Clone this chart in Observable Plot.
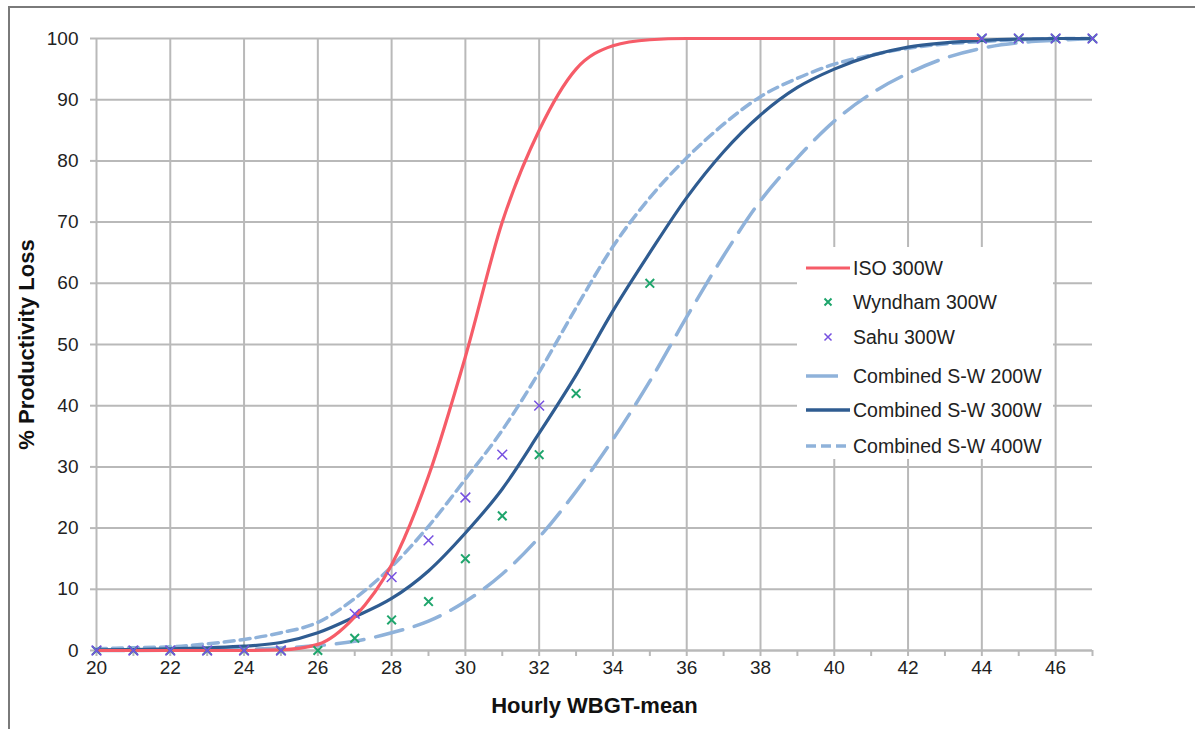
<!DOCTYPE html>
<html><head><meta charset="utf-8">
<script src="https://cdn.jsdelivr.net/npm/d3@7"></script>
<script src="https://cdn.jsdelivr.net/npm/@observablehq/plot@0.6"></script>
<style>
body{margin:0;background:#fff;font-family:"Liberation Sans",Arial,sans-serif;}
#wrap{position:relative;width:1195px;height:729px;overflow:hidden;background:#fff;}
#frame{position:absolute;left:8px;top:6px;width:1300px;height:800px;border-top:2px solid #7a7a7a;border-left:2px solid #7a7a7a;pointer-events:none;}
#chart{position:absolute;left:0;top:0;}
#legend{position:absolute;left:797px;top:247px;}
g[aria-label="y-axis label"] text, g[aria-label="x-axis label"] text{font-weight:bold;font-size:22px;fill:#111;}
</style></head>
<body>
<div id="wrap"><div id="chart"></div><div id="frame"></div><div id="legend"></div></div>
<script>
// ---- data ----
const wbgt   = [20,21,22,23,24,25,26,27,28,29,30,31,32,33,34,35,36,37,38,39,40,41,42,43,44,45,46,47];
const isoX   = [20,21,22,23,24,25,26,27,28,29,30,31,32,33,34,35,36,37,38,39,40,41,42,43,44];
const iso300 = [0,0,0,0,0,0.1,1,5.5,14,28.5,48,70,85,95,98.8,99.8,100,100,100,100,100,100,100,100,100];
const sw200  = [0,0,0.05,0.1,0.2,0.4,0.8,1.5,2.9,4.8,8,12.5,18.5,26,34.5,44,54.5,64.5,73.5,80.5,86.5,91,94.3,96.8,98.4,99.3,99.7,100];
const sw300  = [0.1,0.15,0.25,0.45,0.7,1.3,2.9,5.5,8.5,13,19.2,26.4,35.5,45,55.5,65,74,81.5,87.5,92,95,97.2,98.6,99.3,99.7,99.9,100,100];
const sw400  = [0.3,0.45,0.6,1.1,1.8,2.9,4.6,8.5,13.7,20.3,28,36,45.5,56,66,74,80.5,86,90.5,93.5,95.8,97.3,98.4,99.1,99.5,99.8,100,100];
const wyndX  = [20,21,22,23,24,25,26,27,28,29,30,31,32,33,35,44,45,46,47];
const wyndY  = [0,0,0,0,0,0,0,2,5,8,15,22,32,42,60,100,100,100,100];
const sahuX  = [20,21,22,23,24,25,27,28,29,30,31,32,44,45,46,47];
const sahuY  = [0,0,0,0,0,0,6,12,18,25,32,40,100,100,100,100];
const xTicks = [20,21,22,23,24,25,26,27,28,29,30,31,32,33,34,35,36,37,38,39,40,41,42,43,44,45,46,47];
const xGrid  = [20,22,24,26,28,30,32,34,36,38,40,42,44,46];
const yTicks = [0,10,20,30,40,50,60,70,80,90,100];
const seriesNames = ["ISO 300W","Wyndham 300W","Sahu 300W","Combined S-W 200W","Combined S-W 300W","Combined S-W 400W"];
const xTitle = "Hourly WBGT-mean";
const yTitle = "% Productivity Loss";

const C = {iso:"#f65c68", wynd:"#1ea56c", sahu:"#7650e0", l200:"#8fb2da", l300:"#2f5c91", l400:"#8fb2da", grid:"#b9b9b9"};

const pts = (xs, ys) => xs.map((x,i)=>({x, y:ys[i]}));

const chart = Plot.plot({
  width:1195, height:729,
  marginLeft:96, marginRight:103, marginTop:38, marginBottom:79,
  x:{domain:[20,47]}, y:{domain:[0,100]},
  style:{fontFamily:"Liberation Sans, Arial, sans-serif", fontSize:"19px", color:"#222", background:"transparent"},
  marks:[
    Plot.gridX(xGrid,{stroke:C.grid, strokeOpacity:1, strokeWidth:2}),
    Plot.gridY(yTicks,{stroke:C.grid, strokeOpacity:1, strokeWidth:2}),
    Plot.ruleY([0],{stroke:C.grid, strokeWidth:2}),
    Plot.axisX(xTicks,{tickSize:6, tickPadding:4, stroke:C.grid, strokeWidth:2, fill:"#222",
      tickFormat:d => d % 2 ? "" : String(d),
      label:xTitle, labelAnchor:"center", labelArrow:"none", labelOffset:62}),
    Plot.axisY(yTicks,{tickSize:6, tickPadding:12, stroke:C.grid, strokeWidth:2, fill:"#222",
      label:yTitle, labelAnchor:"center", labelArrow:"none", labelOffset:78}),
    Plot.line(pts(wbgt, sw200),{x:"x", y:"y", stroke:C.l200, strokeWidth:3.5, strokeDasharray:"28,12", curve:"monotone-x"}),
    Plot.line(pts(wbgt, sw400),{x:"x", y:"y", stroke:C.l400, strokeWidth:3.5, strokeDasharray:"10,6", curve:"monotone-x"}),
    Plot.line(pts(wbgt, sw300),{x:"x", y:"y", stroke:C.l300, strokeWidth:3.2, curve:"monotone-x"}),
    Plot.line(pts(isoX, iso300),{x:"x", y:"y", stroke:C.iso, strokeWidth:3.2, curve:"monotone-x"}),
    Plot.dot(pts(wyndX, wyndY),{x:"x", y:"y", symbol:"times", r:4, stroke:C.wynd, strokeWidth:2}),
    Plot.dot(pts(sahuX, sahuY),{x:"x", y:"y", symbol:"times", r:4.5, stroke:C.sahu, strokeWidth:1.5})
  ]
});
document.getElementById("chart").appendChild(chart);

// ---- legend ----
const lg = d3.select("#legend").append("svg").attr("width",256).attr("height",212)
  .style("font-family","Liberation Sans, Arial, sans-serif");
lg.append("rect").attr("width",256).attr("height",212).attr("fill","#fff");
const rowsY = [21,55,90,129,163,199];
const sw = [
  {type:"line", stroke:C.iso, w:3.2, dash:null, x1:9, x2:53},
  {type:"mark", stroke:C.wynd, w:2},
  {type:"mark", stroke:C.sahu, w:1.5},
  {type:"line", stroke:C.l200, w:3.5, dash:null, x1:9, x2:41},
  {type:"line", stroke:C.l300, w:3.5, dash:null, x1:9, x2:53},
  {type:"line", stroke:C.l400, w:3.5, dash:"10,5", x1:9, x2:53}
];
seriesNames.forEach((name,i)=>{
  const y = rowsY[i], s = sw[i];
  if (s.type === "line") {
    lg.append("line").attr("x1",s.x1).attr("x2",s.x2).attr("y1",y).attr("y2",y)
      .attr("stroke",s.stroke).attr("stroke-width",s.w).attr("stroke-dasharray",s.dash);
  } else {
    const r = 3.5;
    lg.append("path").attr("d",`M${31-r},${y-r}L${31+r},${y+r}M${31-r},${y+r}L${31+r},${y-r}`)
      .attr("stroke",s.stroke).attr("stroke-width",s.w);
  }
  lg.append("text").attr("x",56).attr("y",y).attr("dy","0.35em").attr("font-size",19.5).attr("fill","#222").text(name);
});
</script>
</body></html>
